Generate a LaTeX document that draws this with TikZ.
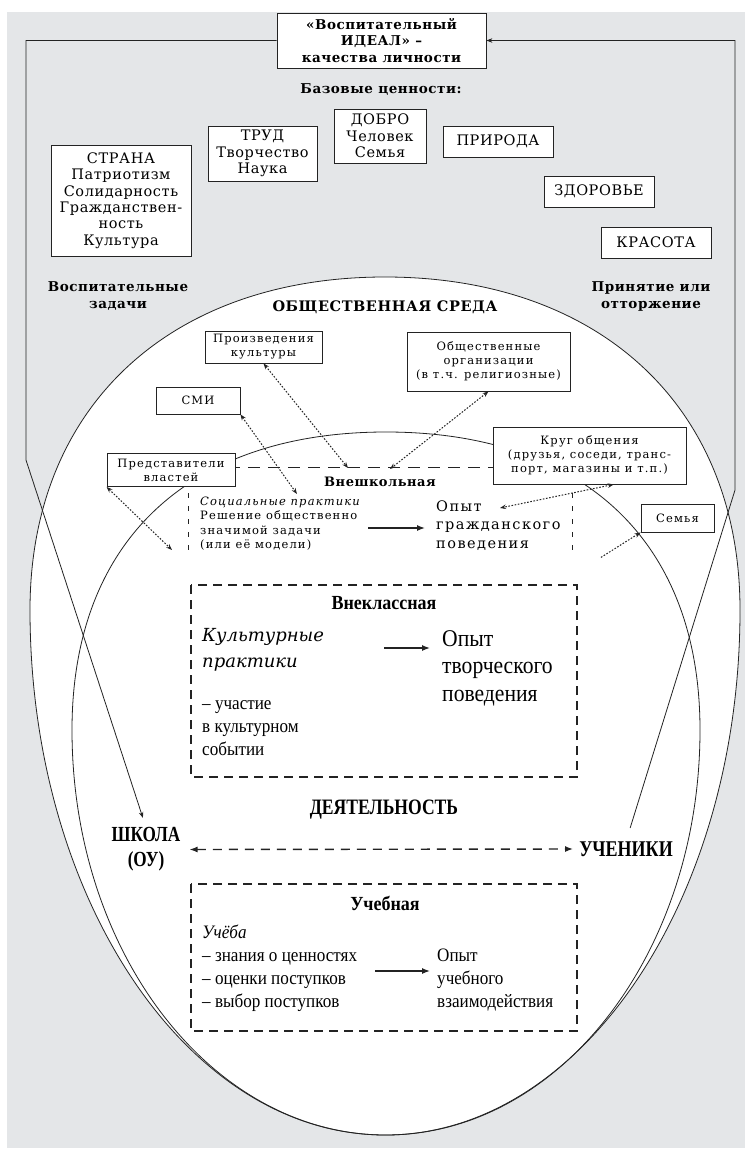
\documentclass[tikz,border=0pt]{standalone}
\usepackage{fontspec}
\setmainfont{Liberation Serif}
\newfontfamily\schfont[LetterSpace=4]{DejaVu Serif}
\newfontfamily\envfont[LetterSpace=10]{DejaVu Serif}
\newfontfamily\slabfont{DejaVu Serif}
\newfontfamily\condfont[FakeStretch=0.9]{Liberation Serif}
\newfontfamily\narrowfont[FakeStretch=0.8]{Liberation Serif}
\usetikzlibrary{arrows.meta,calc}
\definecolor{bggray}{RGB}{228,230,232}
\definecolor{ink}{RGB}{35,35,35}

\begin{document}
\begin{tikzpicture}[x=1pt,y=-1pt,>={Stealth[length=6pt,width=4.5pt]},
  valbox/.style={draw=ink,fill=white,line width=0.8pt,align=center,inner sep=0pt,font=\schfont\fontsize{14.5}{16.3}\selectfont},
  envbox/.style={draw=ink,fill=white,line width=0.8pt,align=center,inner sep=0pt,font=\envfont\fontsize{11.5}{14}\selectfont},
  boldlab/.style={align=center,inner sep=0pt,font=\schfont\bfseries\fontsize{13.5}{17}\selectfont},
  condlab/.style={align=center,inner sep=0pt,font=\narrowfont\bfseries\fontsize{22}{25}\selectfont},
  txt/.style={anchor=west,align=left,inner sep=0pt},
  zone/.style={draw=ink,line width=1.1pt,dash pattern=on 9pt off 6pt},
  link/.style={ink,line width=1pt,dash pattern=on 1.6pt off 1.6pt},
  feed/.style={ink,line width=0.8pt},
  flow/.style={ink,line width=1.3pt,-{Latex[length=8pt,width=6pt]}}]
\useasboundingbox (0,0) rectangle (745,1155);
\fill[bggray] (7,12) rectangle (745,1148);

% social environment and school
\filldraw[ink,fill=white,line width=0.8pt] (385,277) .. controls (172,277) and (30,405) .. (30,610)
  .. controls (30,900) and (189,1135) .. (385,1135)
  .. controls (581,1135) and (740,900) .. (740,610)
  .. controls (740,405) and (598,277) .. (385,277);
\draw[ink,line width=0.8pt] (386,432) .. controls (190,432) and (72,540) .. (72,730)
  .. controls (72,954) and (213,1135) .. (386,1135)
  .. controls (559,1135) and (700,954) .. (700,730)
  .. controls (700,540) and (582,432) .. (386,432);

% frames
\draw[ink,line width=0.9pt,dash pattern=on 12pt off 8pt] (188,467) -- (572,467);
\draw[ink,line width=0.9pt,dash pattern=on 5pt off 8pt] (188,467) -- (188,556);
\draw[ink,line width=0.9pt,dash pattern=on 5pt off 8pt] (572,467) -- (572,556);
\draw[zone] (191,585) rectangle (577,777);
\draw[zone] (191,884) rectangle (577,1031);

% ideal and values
\node (ideal) [valbox,font=\schfont\bfseries\fontsize{13.5}{16.5}\selectfont,minimum width=209pt,minimum height=55pt] at (381.5,40.5) {«Воспитательный\\ИДЕАЛ» –\\качества личности};
\node (bv) [boldlab] at (381,90) {Базовые ценности:};
\node (strana) [valbox,minimum width=140pt,minimum height=111pt] at (121,200.5) {СТРАНА\\Патриотизм\\Солидарность\\Гражданствен-\\ность\\Культура};
\node (trud) [valbox,minimum width=109pt,minimum height=55pt] at (262.5,153.5) {ТРУД\\Творчество\\Наука};
\node (dobro) [valbox,minimum width=92pt,minimum height=54pt] at (380,136) {ДОБРО\\Человек\\Семья};
\node (priroda) [valbox,minimum width=110pt,minimum height=31pt] at (498,141.5) {ПРИРОДА};
\node (health) [valbox,minimum width=110pt,minimum height=31pt] at (599,191.5) {ЗДОРОВЬЕ};
\node (beauty) [valbox,minimum width=110pt,minimum height=31pt] at (656,242.5) {КРАСОТА};
\node (tasks) [boldlab] at (118,296.5) {Воспитательные\\задачи};
\node (accept) [boldlab] at (651,296.5) {Принятие или\\отторжение};
\node (env) [boldlab,font=\schfont\bfseries\fontsize{14.5}{17}\selectfont] at (385,307) {ОБЩЕСТВЕННАЯ СРЕДА};

% environment boxes
\node (works) [envbox,minimum width=117pt,minimum height=32pt] at (263.5,347) {Произведения\\культуры};
\node (smi) [envbox,minimum width=84pt,minimum height=27pt] at (198,400.5) {СМИ};
\node (orgs) [envbox,minimum width=163pt,minimum height=59pt] at (488.5,361.5) {Общественные\\организации\\(в т.ч. религиозные)};
\node (gov) [envbox,minimum width=128pt,minimum height=33pt] at (171,470) {Представители\\властей};
\node (friends) [envbox,minimum width=193pt,minimum height=57pt] at (589.5,455.5) {Круг общения\\(друзья, соседи, транс-\\порт, магазины и т.п.)};
\node (family) [envbox,minimum width=73pt,minimum height=28pt] at (677.5,518) {Семья};

% out of school
\node (outsch) [boldlab,font=\schfont\bfseries\fontsize{13}{17}\selectfont] at (380,482) {Внешкольная};
\node (social) [txt,font=\envfont\fontsize{11.5}{14.3}\selectfont] at (200,523.5) {\textit{Социальные практики}\\Решение общественно\\значимой задачи\\(или её модели)};
\node (civil) [txt,font=\envfont\fontsize{14.5}{18.5}\selectfont] at (436,525.5) {Опыт\\гражданского\\поведения};

% extracurricular
\node (extra) [condlab,font=\condfont\bfseries\fontsize{20}{22}\selectfont] at (384,603) {Внеклассная};
\node (culture) [txt,font=\slabfont\itshape\fontsize{18}{26}\selectfont] at (202,650) {Культурные\\практики};
\node (event) [txt,font=\condfont\fontsize{19}{23}\selectfont] at (202,728) {– участие\\в культурном\\событии};
\node (creative) [txt,font=\condfont\fontsize{24}{27.5}\selectfont] at (442,668) {Опыт\\творческого\\поведения};
\node (activity) [condlab] at (384,810) {ДЕЯТЕЛЬНОСТЬ};
\node (school) [condlab,font=\narrowfont\bfseries\fontsize{21.5}{25}\selectfont] at (146,849.5) {ШКОЛА\\(ОУ)};
\node (pupils) [condlab,font=\narrowfont\bfseries\fontsize{22.5}{25}\selectfont] at (626,849) {УЧЕНИКИ};

% learning
\node (learn) [condlab,font=\condfont\bfseries\fontsize{20}{22}\selectfont] at (385,903) {Учебная};
\node (study) [txt,font=\condfont\fontsize{19}{23}\selectfont] at (202,968.5) {\textit{Учёба}\\– знания о ценностях\\– оценки поступков\\– выбор поступков};
\node (exp3) [txt,font=\condfont\fontsize{19}{23}\selectfont] at (437,980) {Опыт\\учебного\\взаимодействия};

% feedback loop
\coordinate (ltop) at (26,40.5);
\coordinate (lbend) at (26,460);
\coordinate (rtop) at (735,40.5);
\coordinate (rbend) at (735,490);
\draw[feed,->,shorten >=10pt] (ideal.west) -- (ltop) -- (lbend) -- (school.north);
\draw[feed,->,shorten <=14pt] (pupils.north) -- (rbend) -- (rtop) -- (ideal.east);

% influences
\coordinate (wend) at (348,468);
\coordinate (oend) at (390,469);
\coordinate (send) at (297,494);
\coordinate (gend) at (172,550);
\coordinate (fend) at (500,508);
\coordinate (mend) at (600,558);
\draw[link,<->] (works.south) -- (wend);
\draw[link,<->] (orgs.south) -- (oend);
\draw[link,<->] (smi.south east) -- (send);
\draw[link,<->] (gov.south west) -- (gend);
\draw[link,<->] (friends.-50) -- (fend);
\draw[link,<-] (family.south west) -- (mend);

% experience
\draw[flow,shorten <=7pt,shorten >=11pt] ([yshift=-4.5pt]social.east) -- ([yshift=-4.5pt]social.east -| civil.west);
\draw[flow,shorten <=60pt,shorten >=12pt] ([yshift=2pt]culture.east) -- ([yshift=2pt]culture.east -| creative.west);
\draw[flow,shorten <=18pt,shorten >=7pt] ([yshift=-2.5pt]study.east) -- ([yshift=-2.5pt]study.east -| exp3.west);
\draw[ink,line width=1.4pt,dash pattern=on 9pt off 7pt,{Latex[length=8pt,width=6pt]}-{Latex[length=8pt,width=6pt]},shorten <=9pt,shorten >=6pt] (school.east) -- (pupils.west);
\end{tikzpicture}
\end{document}
